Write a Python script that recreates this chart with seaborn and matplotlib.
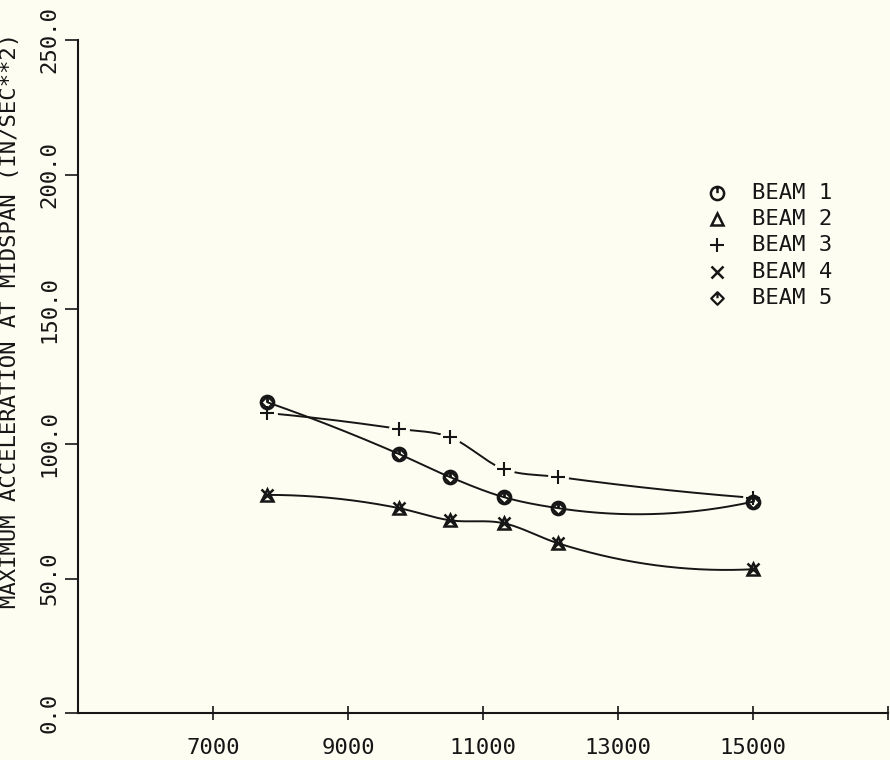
import numpy as np
import matplotlib
matplotlib.use("Agg")
import matplotlib.pyplot as plt
from matplotlib.path import Path
import seaborn as sns

# Span (x) at which each beam was measured
span = [7800, 9750, 10500, 11300, 12100, 15000]

# Maximum acceleration at midspan (in/sec**2)
beam1 = [115.5, 96.3, 87.8, 80.3, 76.2, 78.6]
beam2 = [81.1, 76.2, 71.7, 70.6, 63.2, 53.5]
beam3 = [111.5, 105.6, 102.6, 90.7, 87.8, 80.0]
beam4 = [81.1, 76.2, 71.7, 70.6, 63.2, 53.5]
beam5 = [115.5, 96.3, 87.8, 80.3, 76.2, 78.6]

legend_labels = ["BEAM 1", "BEAM 2", "BEAM 3", "BEAM 4", "BEAM 5"]
x_ticks = [7000, 9000, 11000, 13000, 15000]
x_ticklabels = ["7000", "9000", "11000", "13000", "15000"]
y_ticks = [0, 50, 100, 150, 200, 250]
y_ticklabels = ["0.0", "50.0", "100.0", "150.0", "200.0", "250.0"]
y_label = "MAXIMUM ACCELERATION AT MIDSPAN (IN/SEC**2)"

BG = "#fdfdf1"
INK = "#161616"
FONT = "DejaVu Sans Mono"

sns.set_theme(style="white")
plt.rcParams["font.family"] = [FONT]


def smooth_curve(x, y, n=400):
    """Hermite curve through the points with Bessel (3-point parabola) slopes."""
    x = np.asarray(x, float)
    y = np.asarray(y, float)
    h = np.diff(x)
    d = np.diff(y) / h
    m = np.empty_like(y)
    m[1:-1] = (h[1:] * d[:-1] + h[:-1] * d[1:]) / (h[:-1] + h[1:])
    m[0] = ((2 * h[0] + h[1]) * d[0] - h[0] * d[1]) / (h[0] + h[1])
    m[-1] = ((2 * h[-1] + h[-2]) * d[-1] - h[-1] * d[-2]) / (h[-1] + h[-2])
    xs = np.linspace(x[0], x[-1], n)
    idx = np.clip(np.searchsorted(x, xs) - 1, 0, len(x) - 2)
    hh = h[idx]
    s = (xs - x[idx]) / hh
    h00 = 2 * s ** 3 - 3 * s ** 2 + 1
    h10 = s ** 3 - 2 * s ** 2 + s
    h01 = -2 * s ** 3 + 3 * s ** 2
    h11 = s ** 3 - s ** 2
    ys = h00 * y[idx] + h10 * hh * m[idx] + h01 * y[idx + 1] + h11 * hh * m[idx + 1]
    return xs, ys


# Plotter-style marker shapes
tick_seg = Path([(0, 1.0), (0, 0.05)], [Path.MOVETO, Path.LINETO])
circle_tick = Path.make_compound_path(Path.unit_circle(), tick_seg)
diamond = Path([(0, 1), (1, 0), (0, -1), (-1, 0), (0, 1)],
               [Path.MOVETO, Path.LINETO, Path.LINETO, Path.LINETO, Path.CLOSEPOLY])
diamond_tick = Path.make_compound_path(diamond, tick_seg)

styles = [
    dict(marker=circle_tick, ms=9.5, mew=1.8),
    dict(marker="^", ms=8.5, mew=1.8),
    dict(marker="+", ms=10.0, mew=1.5),
    dict(marker="x", ms=9.0, mew=1.8),
    dict(marker=diamond_tick, ms=9.0, mew=1.6),
]

fig = plt.figure(figsize=(8.9, 7.6), dpi=100, facecolor=BG)
ax = fig.add_axes([0.088, 0.0614, 0.91, 0.886])
ax.set_facecolor(BG)

# Smoothed curves
for ys_data, z in [(beam3, 2), (beam1, 3), (beam4, 3)]:
    cx, cy = smooth_curve(span, ys_data)
    sns.lineplot(x=cx, y=cy, ax=ax, color=INK, lw=1.4,
                 sort=False, estimator=None, zorder=z)

# Beam 3 curve is broken around its markers
ax.plot(span, beam3, "o", ms=14, color=BG, zorder=2.5, linestyle="none")

# Markers
for ys_data, st in zip([beam1, beam2, beam3, beam4, beam5], styles):
    ax.plot(span, ys_data, linestyle="none", color=INK, mfc="none",
            mec=INK, zorder=4, **st)

ax.set_xlim(5000, 17000)
ax.set_ylim(0, 250)

ax.set_xticks(x_ticks + [17000])
ax.set_xticklabels(x_ticklabels + [""], fontsize=16, color=INK)
ax.set_yticks(y_ticks)
ax.set_yticklabels(y_ticklabels, fontsize=16, color=INK, rotation=90, va="center")

ax.tick_params(axis="x", direction="inout", length=10, width=1.2, colors=INK,
               pad=13, bottom=True)
ax.tick_params(axis="y", direction="out", length=9.5, width=1.2, colors=INK,
               pad=4, left=True)

for side in ["top", "right"]:
    ax.spines[side].set_visible(False)
for side in ["left", "bottom"]:
    ax.spines[side].set_color(INK)
    ax.spines[side].set_linewidth(1.5)

ax.set_ylabel(y_label, fontsize=16, color=INK)
ax.yaxis.set_label_coords(-0.072, 0.583)
ax.set_xlabel("")

# Legend, symbols drawn beside each label
lx_mark, lx_text = 0.7888, 0.8320
ly0, dy = 0.7728, 0.0390
for i, (lab, st) in enumerate(zip(legend_labels, styles)):
    yy = ly0 - i * dy
    ax.plot([lx_mark], [yy], transform=ax.transAxes, linestyle="none",
            color=INK, mfc="none", mec=INK, clip_on=False, zorder=5, **st)
    ax.text(lx_text, yy, lab, transform=ax.transAxes, fontsize=16,
            color=INK, va="center", ha="left", family=FONT)

fig.savefig("out.png", dpi=100, facecolor=BG)
